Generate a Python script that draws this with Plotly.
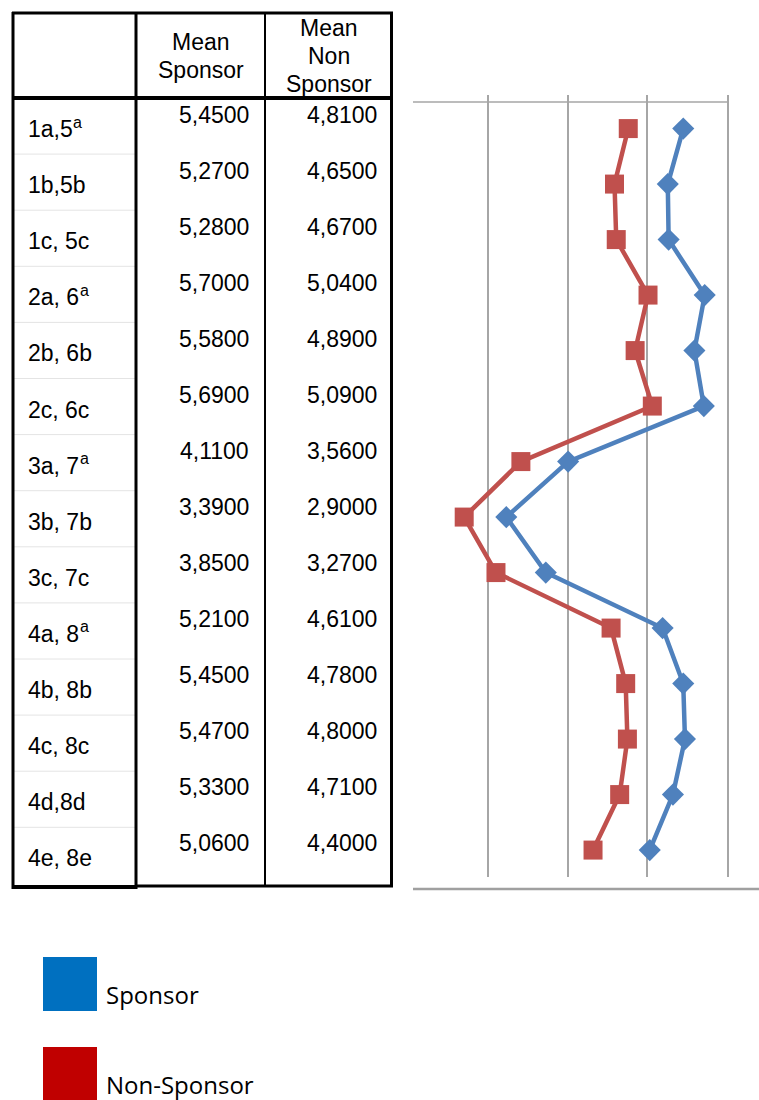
import plotly.graph_objects as go

# Item labels (rows of the table / points of the profile)
items = [
    "1a,5", "1b,5b", "1c, 5c",
    "2a, 6", "2b, 6b", "2c, 6c",
    "3a, 7", "3b, 7b", "3c, 7c",
    "4a, 8", "4b, 8b", "4c, 8c", "4d,8d", "4e, 8e",
]
# Footnote marks raised after some labels
item_marks = ["a", "", "", "a", "", "", "a", "", "", "a", "", "", "", ""]

# Mean scores per group
mean_sponsor = [5.45, 5.27, 5.28, 5.70, 5.58, 5.69, 4.11, 3.39, 3.85,
                5.21, 5.45, 5.47, 5.33, 5.06]
mean_non_sponsor = [4.81, 4.65, 4.67, 5.04, 4.89, 5.09, 3.56, 2.90, 3.27,
                    4.61, 4.78, 4.80, 4.71, 4.40]

header_sponsor = ["Mean", "Sponsor"]
header_non_sponsor = ["Mean", "Non", "Sponsor"]
legend_names = ["Sponsor", "Non-Sponsor"]

W, H = 759, 1100
BLUE_LINE = "#4F81BD"
RED_LINE = "#C0504D"
BLUE_KEY = "#0070C0"
RED_KEY = "#C00000"
TABLE_FONT = "Liberation Sans, Arial, sans-serif"
KEY_FONT = "Open Sans, Noto Sans, sans-serif"
TABLE_SIZE = 23

# Advance widths (em) of the Arial-metric glyphs used in the row labels
ADVANCE = {" ": 0.278, ",": 0.278}


def text_width(s, size):
    return sum(ADVANCE.get(ch, 0.556) for ch in s) * size


def px(x):
    return x / W


def py(y):
    return 1 - y / H


def fmt(v):
    return f"{v:.4f}".replace(".", ",")


idx = list(range(len(items)))

fig = go.Figure()

# Profile lines
fig.add_trace(go.Scatter(
    x=mean_sponsor, y=idx, mode="lines+markers", name=legend_names[0],
    line=dict(color=BLUE_LINE, width=4.5),
    marker=dict(symbol="diamond", size=17, color=BLUE_LINE),
    showlegend=False, hoverinfo="x",
))
fig.add_trace(go.Scatter(
    x=mean_non_sponsor, y=idx, mode="lines+markers", name=legend_names[1],
    line=dict(color=RED_LINE, width=4.5),
    marker=dict(symbol="square", size=19, color=RED_LINE),
    showlegend=False, hoverinfo="x",
))

shapes = []
annotations = []


def hline(x0, x1, y, w, color="black"):
    shapes.append(dict(type="line", xref="paper", yref="paper",
                       x0=px(x0), x1=px(x1), y0=py(y), y1=py(y),
                       line=dict(color=color, width=w)))


def vline(x, y0, y1, w, color="black"):
    shapes.append(dict(type="line", xref="paper", yref="paper",
                       x0=px(x), x1=px(x), y0=py(y0), y1=py(y1),
                       line=dict(color=color, width=w)))


def table_text(text, x, y, xanchor, size=TABLE_SIZE):
    annotations.append(dict(text=text, x=px(x), y=py(y), xref="paper",
                            yref="paper", xanchor=xanchor, yanchor="middle",
                            showarrow=False,
                            font=dict(family=TABLE_FONT, size=size,
                                      color="black")))


# Table frame
ROW0, PITCH = 98, 56.1
for i in range(1, len(items)):
    hline(14, 135, ROW0 + PITCH * i, 1, "#E4E4E4")
hline(12, 393, 13, 3)
hline(12, 393, 98, 4)
hline(12, 137, 887, 4)
hline(136, 393, 886, 3)
vline(13, 12, 889, 3)
vline(136, 12, 889, 3)
vline(265, 12, 887, 2)
vline(391.5, 12, 887, 3)

# Header text
for k, t in enumerate(header_sponsor):
    table_text(t, 201, 42 + 27.5 * k, "center")
for k, t in enumerate(header_non_sponsor):
    table_text(t, 329, 28.5 + 27.5 * k, "center")

# Body text
LABEL_X = 26
for i, lab in enumerate(items):
    ly = 129 + PITCH * i
    table_text(lab, LABEL_X, ly, "left")
    if item_marks[i]:
        table_text(item_marks[i], LABEL_X + text_width(lab, TABLE_SIZE) + 0.5,
                   ly - 7, "left", size=16)
    table_text(fmt(mean_sponsor[i]), 251, 115 + 56.0 * i, "right")
    table_text(fmt(mean_non_sponsor[i]), 379, 115 + 56.0 * i, "right")

# Chart frame lines
hline(413, 728, 102, 1.5, "#A6A6A6")
hline(413, 759, 889, 2.5, "#A0A0A0")

# Color key
for (top, color, name) in [(957, BLUE_KEY, legend_names[0]),
                           (1047, RED_KEY, legend_names[1])]:
    shapes.append(dict(type="rect", xref="paper", yref="paper",
                       x0=px(43), x1=px(97), y0=py(top + 54), y1=py(top),
                       fillcolor=color, line=dict(width=0)))
    annotations.append(dict(text=name, xref="paper", yref="paper",
                            x=px(104), y=py(top + 37), xanchor="left",
                            yanchor="middle", showarrow=False,
                            font=dict(family=KEY_FONT, size=24,
                                      color="black")))

fig.update_layout(
    width=W, height=H,
    margin=dict(l=0, r=0, t=0, b=0),
    paper_bgcolor="white", plot_bgcolor="white",
    shapes=shapes, annotations=annotations,
    xaxis=dict(domain=[px(413), 1], range=[2.304, 6.332],
               tickmode="array", tickvals=[3.174, 4.105, 5.032, 5.971],
               showgrid=True, gridcolor="#A6A6A6", gridwidth=1.5,
               showticklabels=False, ticks="", zeroline=False,
               showline=False, fixedrange=True),
    yaxis=dict(domain=[py(877), py(95)], range=[13.485, -0.605],
               showgrid=False, showticklabels=False, ticks="",
               zeroline=False, showline=False, fixedrange=True),
)

fig.write_html("out.html")
